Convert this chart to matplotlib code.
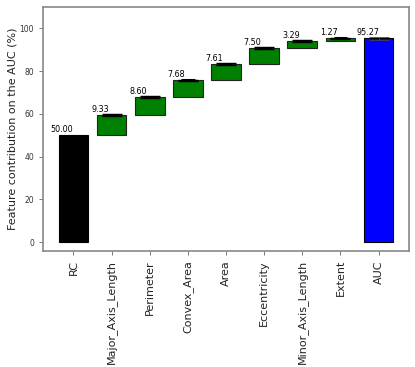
import matplotlib
matplotlib.use("Agg")
import matplotlib.pyplot as plt
import numpy as np

categories = ["RC", "Major_Axis_Length", "Perimeter", "Convex_Area", "Area",
              "Eccentricity", "Minor_Axis_Length", "Extent", "AUC"]
base_value = 50.00
contributions = [9.33, 8.60, 7.68, 7.61, 7.50, 3.29, 1.27]
auc_value = 95.27
contrib_err = [0.4, 0.4, 0.4, 0.4, 0.4, 0.4, 0.4]
auc_err = 0.8

fig = plt.figure(figsize=(4.15, 3.67), dpi=100)
ax = fig.add_axes([0.1036, 0.316, 0.882, 0.665])

x = np.arange(len(categories))
# base bar
ax.bar(x[0], base_value, width=0.78, color="black", edgecolor="black", linewidth=0.8)
ax.text(x[0] - 0.3, base_value + 0.6, f"{base_value:.2f}", ha="center", va="bottom", fontsize=5.8)

bottom = base_value
for i, c in enumerate(contributions):
    xi = x[i + 1]
    ax.bar(xi, c, bottom=bottom, width=0.78, color="green", edgecolor="#222222", linewidth=0.8)
    top = bottom + c
    ax.errorbar(xi, top, yerr=contrib_err[i], color="black", capsize=7, elinewidth=0.8,
                capthick=1.0, fmt="none")
    ax.plot([xi - 0.18, xi + 0.18], [top, top], color="black", linewidth=2.2, solid_capstyle="butt")
    ax.text(xi - 0.3, top + 0.6, f"{c:.2f}", ha="center", va="bottom", fontsize=5.8)
    bottom = top

ax.bar(x[-1], auc_value, width=0.78, color="blue", edgecolor="black", linewidth=0.8)
ax.errorbar(x[-1], auc_value, yerr=auc_err, color="#444444", capsize=7, elinewidth=0.6,
            capthick=0.6, fmt="none")
ax.text(x[-1] - 0.27, auc_value + 0.6, f"{auc_value:.2f}", ha="center", va="bottom", fontsize=5.8)

ax.set_xlim(-0.8, 8.8)
ax.set_ylim(-4.2, 110)
ax.set_yticks([0, 20, 40, 60, 80, 100])
ax.set_xticks(x)
ax.set_xticklabels(categories, rotation=90, fontsize=8)
ax.tick_params(axis="y", labelsize=5.5, colors="#666666", labelcolor="#333333", length=3, width=0.6)
ax.tick_params(axis="x", colors="#666666", labelcolor="#222222", length=3, width=0.6)
ax.set_ylabel("Feature contribution on the AUC (%)", fontsize=8, color="#222222", labelpad=1.5)
for s in ax.spines.values():
    s.set_color("#888888")
    s.set_linewidth(1.2)

fig.savefig("out.png", dpi=100)
